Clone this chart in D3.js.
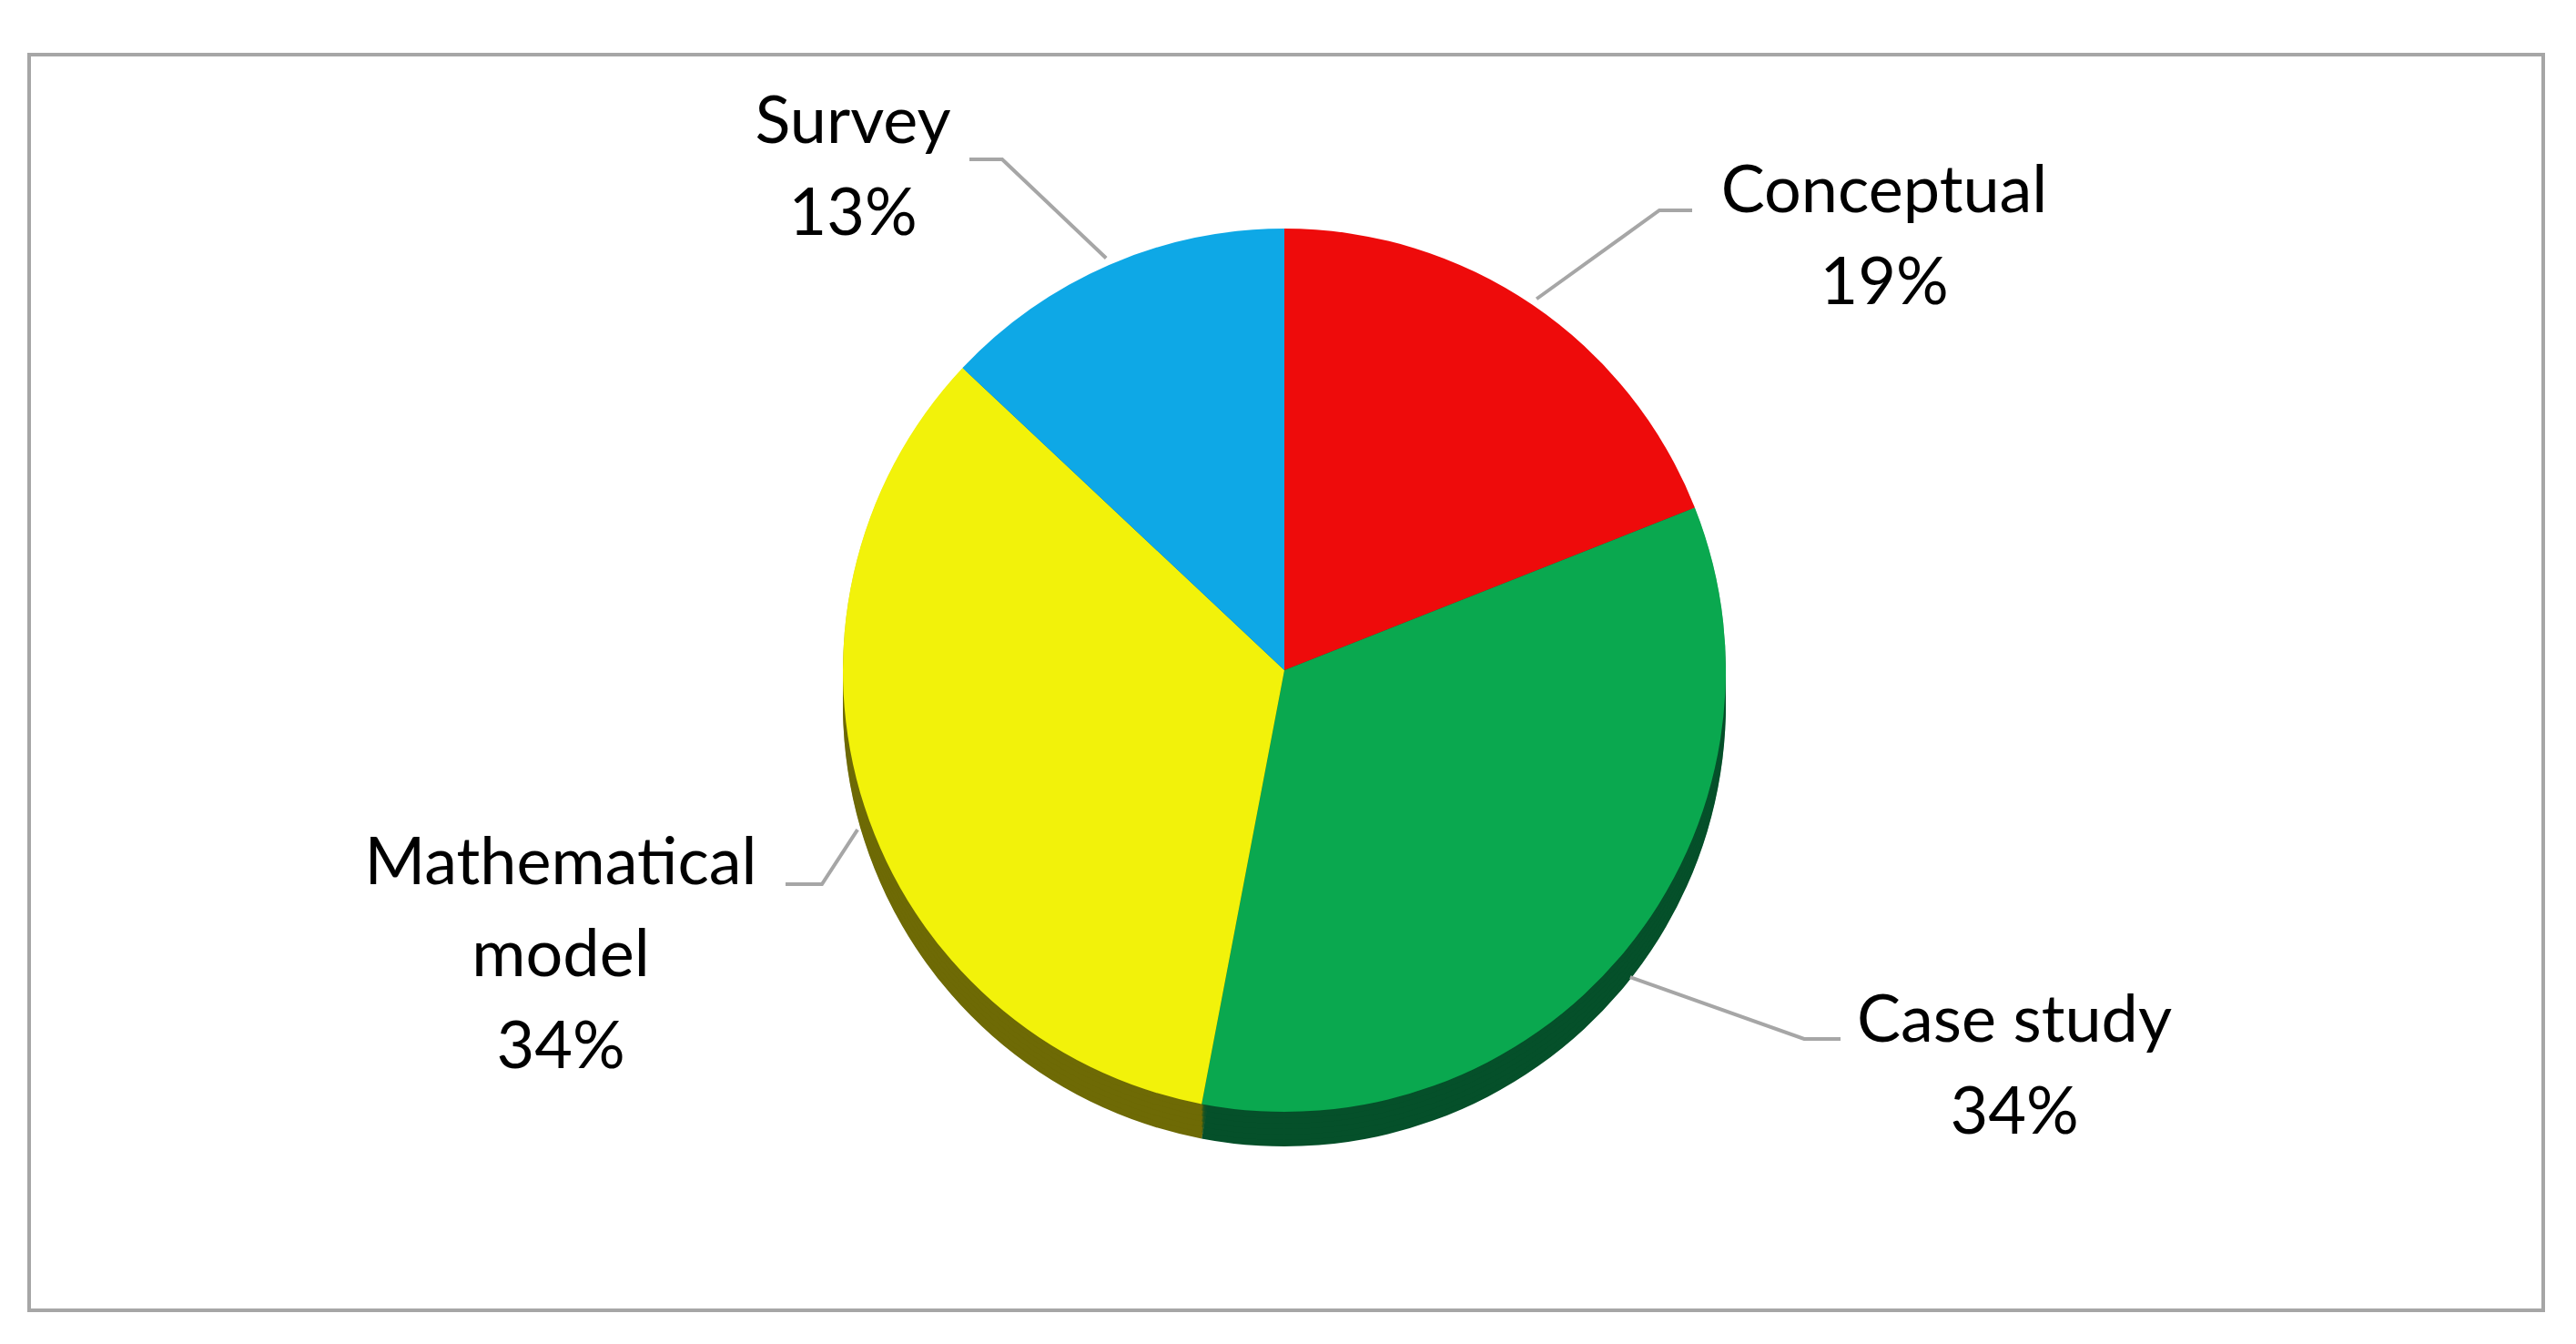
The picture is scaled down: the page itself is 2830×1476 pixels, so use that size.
<!DOCTYPE html>
<html><head><meta charset="utf-8">
<script src="https://cdn.jsdelivr.net/npm/d3@7"></script>
<style>body{margin:0;background:#fff}</style></head>
<body><svg id="c" width="2830" height="1476"></svg>
<script>
const categories = ["Conceptual","Case study","Mathematical model","Survey"];
const values = [19,34,34,13];
const colors = ["#EE0B0B","#0AA84F","#F2F20A","#0EA8E6"];
const sideColors = ["#8a0606","#05502a","#6e6a05","#06607f"];
// label layout: lines, x center, first baseline, elbow x, label-side end x
const labelLines = [["Conceptual","19%"],["Case study","34%"],["Mathematical","model","34%"],["Survey","13%"]];
const labelPos = [[2070,233],[2213,1144],[616,971],[937,157]];
const elbow = [[1823,1859,231],[1982,2022,1141],[903,863,971],[1101,1065,175]];

const svg = d3.select("#c");
svg.append("rect").attr("x",32).attr("y",60).attr("width",2762).attr("height",1379)
  .attr("fill","#fff").attr("stroke","#a6a6a6").attr("stroke-width",4);
const cx=1411, cy=736, r=485, depth=38;
const pie = d3.pie().sort(null)(values);
const arc = d3.arc().innerRadius(0).outerRadius(r);
const g = svg.append("g").attr("transform",`translate(${cx},${cy})`);
g.append("g").attr("transform",`translate(0,${depth})`).selectAll("path").data(pie).join("path")
  .attr("d",arc).attr("fill",(d,i)=>sideColors[i]);
for(let k=depth-1;k>0;k-=6){
  g.append("g").attr("transform",`translate(0,${k})`).selectAll("path").data(pie).join("path")
    .attr("d",arc).attr("fill",(d,i)=>sideColors[i]).attr("opacity",0.5);
}
g.selectAll("path.top").data(pie).join("path").attr("class","top")
  .attr("d",arc).attr("fill",(d,i)=>colors[i]);
const edge = d3.arc().innerRadius(r*1.0).outerRadius(r*1.0);
pie.forEach((d,i)=>{
  const a=(d.startAngle+d.endAngle)/2;
  const px=cx+Math.sin(a)*(r+8), py=cy-Math.cos(a)*(r+8)+(a>Math.PI/2&&a<1.5*Math.PI?depth*0.6:0);
  const e=elbow[i];
  svg.append("polyline").attr("points",`${px},${py} ${e[0]},${e[2]} ${e[1]},${e[2]}`)
    .attr("fill","none").attr("stroke","#a6a6a6").attr("stroke-width",4);
  const t=svg.append("text").attr("font-family","Lato, 'Open Sans', sans-serif").attr("font-size",72)
    .attr("fill","#000").attr("text-anchor","middle");
  labelLines[i].forEach((s,j)=>t.append("tspan").attr("x",labelPos[i][0]).attr("y",labelPos[i][1]+j*101).text(s));
});
</script></body></html>
